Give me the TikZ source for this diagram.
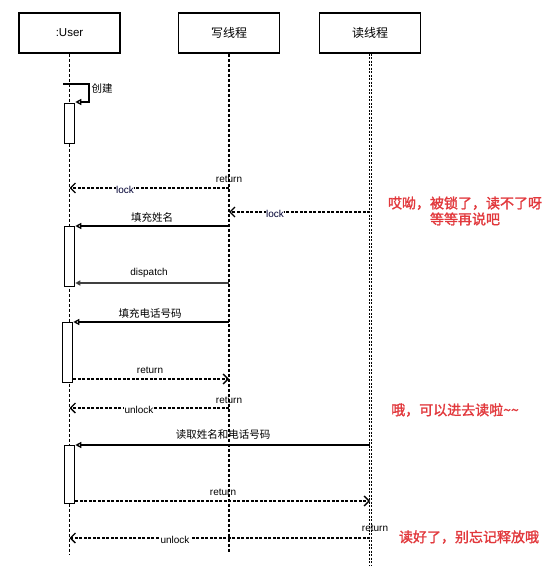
\documentclass[tikz,border=0pt]{standalone}
\usepackage{fontspec}
\setmainfont{Liberation Sans}
\newfontfamily\cjk{Noto Sans CJK SC}
\newfontfamily\cjkb[FakeBold=1.5]{Noto Sans CJK SC}
\usetikzlibrary{arrows.meta}
\definecolor{redtxt}{RGB}{226,56,60}
\begin{document}
\begin{tikzpicture}[x=1pt,y=-1pt,
 head/.style={draw, line width=1.4pt, minimum width=101pt, minimum height=40pt, inner sep=0pt},
 life/.style={line width=1.4pt, dash pattern=on 3pt off 2pt},
 dlife/.style={line width=0.9pt, dash pattern=on 2pt off 1.5pt},
 act/.style={draw, line width=1.3pt, fill=white, minimum width=10pt, anchor=north west, inner sep=0pt},
 msg/.style={line width=1.3pt, -{Triangle[open,length=6pt,width=6pt]}},
 dmsg/.style={line width=1.3pt, draw=black!75, -{Triangle[length=5pt,width=5pt,fill=black]}},
 ret/.style={line width=1.3pt, dash pattern=on 3pt off 1.5pt, -{Straight Barb[length=5pt,width=10pt]}},
 lbl/.style={font=\fontsize{10}{12}\selectfont, inner sep=0.5pt},
 clbl/.style={font=\fontsize{10.5}{12}\selectfont\cjk, inner sep=0.5pt},
 note/.style={font=\fontsize{14}{16}\selectfont\cjkb, text=redtxt, align=center, inner sep=0pt}
]
\fill[white] (0,0) rectangle (559,577);
\useasboundingbox (0,0) rectangle (559,577);

% heads
\node[head, font=\fontsize{11.5}{13}\selectfont] (U) at (69.5,33) {:User};
\node[head, font=\fontsize{12}{14}\selectfont\cjk] (W) at (229,33) {写线程};
\node[head, font=\fontsize{12}{14}\selectfont\cjk] (R) at (370,33) {读线程};

% lifelines
\coordinate (Ue) at (69.5,555);
\coordinate (We) at (229,552);
\coordinate (Re) at (370,565);
\draw[life] (U.south) -- (Ue);
\draw[life] (W.south) -- (We);
\draw[dlife] ([xshift=-1pt]R.south) -- ([xshift=-1pt]Re);
\draw[dlife] ([xshift=1pt]R.south) -- ([xshift=1pt]Re);

% activation boxes
\node[act, minimum height=40pt] (A1) at (64,103) {};
\node[act, minimum height=60pt] (A2) at (64,226) {};
\node[act, minimum height=60pt] (A3) at (62,322) {};
\node[act, minimum height=58pt] (A4) at (64,445) {};

% self message
\coordinate (s0) at (63,84);
\coordinate (s1) at (89,84);
\coordinate (s2) at (89,102);
\draw[msg] (s0) -- (s1) -- (s2) -- (A1.north east |- s2);
\node[clbl, anchor=west] (c0) at (91,89) {创建};

% return lock
\coordinate (w1) at (229,188);
\coordinate (u1) at (69.5,188);
\draw[ret] (w1) -- (u1);
\node[lbl] (r1) at (229,179) {return};
\node[lbl, fill=white, text=black!80!blue] (k1) at (125,190) {lock};

% read lock
\coordinate (rr2) at (370,212);
\coordinate (w2) at (229,212);
\draw[ret] (rr2) -- (w2);
\node[lbl, fill=white, text=black!80!blue] (k2) at (275,214) {lock};

% 填充姓名
\coordinate (w3) at (229,226);
\draw[msg] (w3) -- (A2.north east);
\node[clbl] (m3) at (152,217) {填充姓名};

% dispatch
\coordinate (w4) at (229,283);
\draw[dmsg] (w4) -- (A2.south east |- w4);
\node[lbl] (m4) at (149,273) {dispatch};

% 填充电话号码
\coordinate (w5) at (229,322);
\draw[msg] (w5) -- (A3.north east);
\node[clbl] (m5) at (150,313) {填充电话号码};

% return
\coordinate (w6) at (229,379);
\draw[ret] (A3.south east |- w6) -- (w6);
\node[lbl] (m6) at (150,370) {return};

% return unlock
\coordinate (w7) at (229,408);
\coordinate (u7) at (69.5,408);
\draw[ret] (w7) -- (u7);
\node[lbl] (r7) at (229,400) {return};
\node[lbl, fill=white] (k7) at (139,410) {unlock};

\node[note] (n2) at (455,410) {哦，可以进去读啦\textasciitilde\textasciitilde};

% 读取姓名和电话号码
\coordinate (rr9) at (370,445);
\draw[msg] (rr9) -- (A4.north east);
\node[clbl] (m9) at (223,435) {读取姓名和电话号码};

% return
\coordinate (rr10) at (370,501);
\draw[ret] (A4.south east |- rr10) -- (rr10);
\node[lbl] (m10) at (223,492) {return};

% return unlock
\coordinate (rr11) at (370,538);
\coordinate (u11) at (69.5,538);
\draw[ret] (rr11) -- (u11);
\node[lbl] (r11) at (375,528) {return};
\node[lbl, fill=white] (k11) at (175,540) {unlock};

% notes
\node[note] (n1) at (465,211) {哎呦，被锁了，读不了呀\\等等再说吧};
\node[note] (n3) at (469,537) {读好了，别忘记释放哦};
\end{tikzpicture}
\end{document}
